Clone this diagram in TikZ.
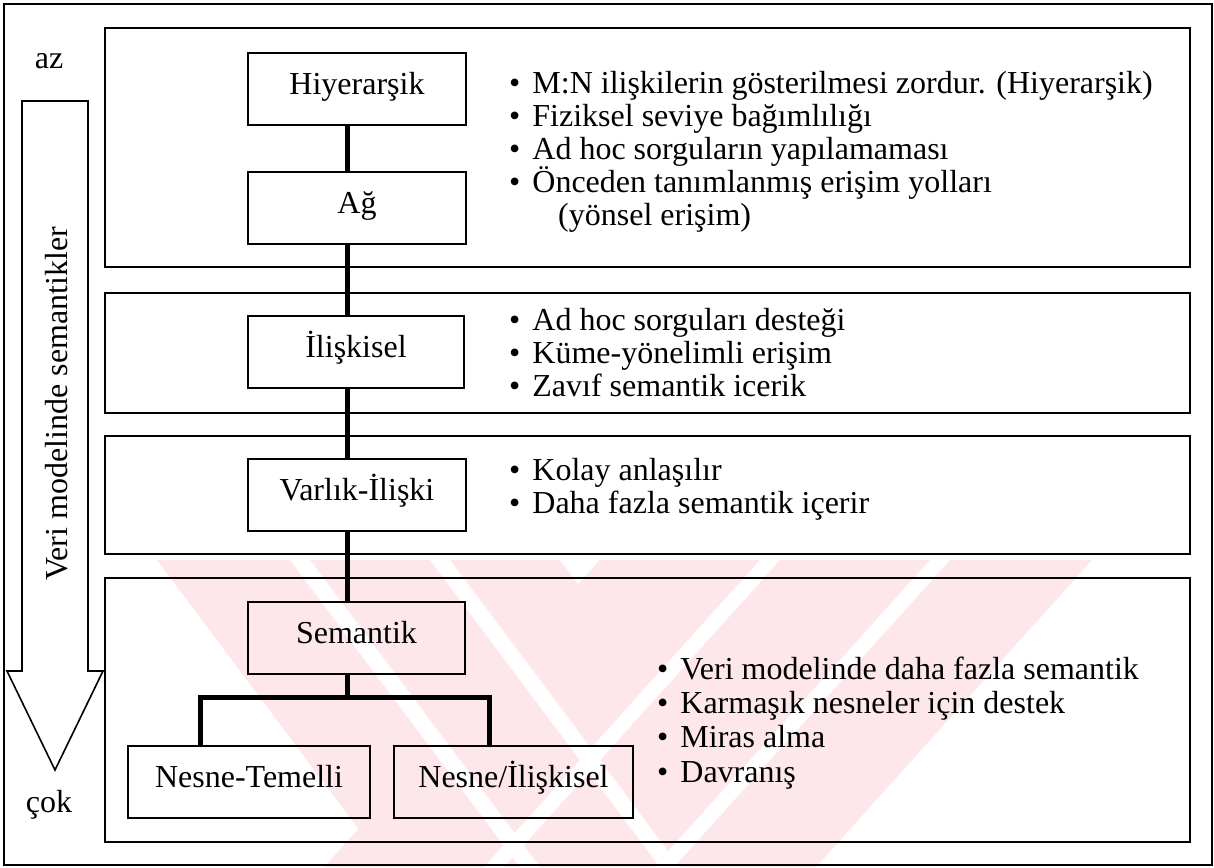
\documentclass[tikz,border=0pt]{standalone}
\usepackage{fontspec}
\setmainfont{Liberation Serif}
\definecolor{wmpink}{RGB}{253,231,235}
\newcommand\itemdot{\char"2022\hspace{12pt}}
\begin{document}
\begin{tikzpicture}[x=1pt,y=-1pt,
  txt/.style={font=\fontsize{32}{38}\selectfont, inner sep=0pt},
  frame/.style={draw, line width=1.6pt},
  panel/.style={draw, line width=1.8pt},
  mbox/.style={draw, line width=1.8pt, txt, minimum height=72pt,
               text height=17pt, text depth=7pt},
  link/.style={line width=5pt},
  item/.style={txt, anchor=base west},
]
\useasboundingbox (0,0) rectangle (1214,867);

% faint striped watermark in the lower half
\begin{scope}
  \clip (0,560) rectangle (1214,867);
  % two crossing bands
  \fill[wmpink] (157,560) -- (560,560) -- ++(230,307) -- ++(-403,0) -- cycle;
  \fill[wmpink] (600,560) -- (1092,560) -- ++(-276,307) -- ++(-492,0) -- cycle;
  % thin white stripes inside the bands
  \foreach \s in {290,430}
    \fill[white] (\s,560) -- (\s+20,560) -- ++(230,307) -- ++(-20,0) -- cycle;
  \foreach \s in {760,930}
    \fill[white] (\s,560) -- (\s+20,560) -- ++(-276,307) -- ++(-20,0) -- cycle;
\end{scope}

% outer frame
\draw[frame] (4,4) rectangle (1212,865);

% downward arrow on the left
\draw[frame] (22,101) -- (88,101) -- (88,671) -- (103,671) -- (55,770)
  -- (7,671) -- (22,671) -- cycle;
\node[txt, anchor=base] (az) at (49,68) {az};
\node[txt, anchor=base] (cok) at (49,812) {çok};
\node[txt, rotate=90, anchor=base] (axis) at (67,404) {Veri modelinde semantikler};

% group panels
\draw[panel] (105,28) rectangle (1190,267);
\draw[panel] (105,293) rectangle (1190,413);
\draw[panel] (105,436) rectangle (1190,554);
\draw[panel] (105,578) rectangle (1190,842);

% model boxes
\node[mbox, minimum width=218pt] (hier) at (357,89) {Hiyerarşik};
\node[mbox, minimum width=218pt] (ag) at (357,208) {Ağ};
\node[mbox, minimum width=216pt] (ilis) at (356,352) {İlişkisel};
\node[mbox, minimum width=218pt] (varlik) at (357,495) {Varlık-İlişki};
\node[mbox, minimum width=217pt] (sem) at (356.5,638) {Semantik};
\node[mbox, minimum width=242pt] (nt) at (249,782) {Nesne-Temelli};
\node[mbox, minimum width=239pt] (ni) at (513.5,782) {Nesne/İlişkisel};

% connectors
\coordinate (cx) at (347,0);
\coordinate (jl) at (200,697);
\coordinate (jr) at (489,697);
\draw[link] (hier.south -| cx) -- (ag.north -| cx);
\draw[link] (ag.south -| cx) -- (ilis.north -| cx);
\draw[link] (ilis.south -| cx) -- (varlik.north -| cx);
\draw[link] (varlik.south -| cx) -- (sem.north -| cx);
\draw[link] (sem.south -| cx) -- (cx |- jl);
\draw[link, line join=miter] (jl |- nt.north) -- (jl) -- (jr) -- (jr |- ni.north);

% feature lists
\node[item] (h1) at (509,93)  {\itemdot M:N ilişkilerin gösterilmesi zordur. (Hiyerarşik)};
\node[item] (h2) at (509,126) {\itemdot Fiziksel seviye bağımlılığı};
\node[item] (h3) at (509,159) {\itemdot Ad hoc sorguların yapılamaması};
\node[item] (h4) at (509,192) {\itemdot Önceden tanımlanmış erişim yolları};
\node[item] (h5) at (558,225) {(yönsel erişim)};

\node[item] (r1) at (509,330) {\itemdot Ad hoc sorguları desteği};
\node[item] (r2) at (509,363) {\itemdot Küme-yönelimli erişim};
\node[item] (r3) at (509,396) {\itemdot Zavıf semantik icerik};

\node[item] (e1) at (509,480) {\itemdot Kolay anlaşılır};
\node[item] (e2) at (509,513) {\itemdot Daha fazla semantik içerir};

\node[item] (s1) at (657,679) {\itemdot Veri modelinde daha fazla semantik};
\node[item] (s2) at (657,713) {\itemdot Karmaşık nesneler için destek};
\node[item] (s3) at (657,747) {\itemdot Miras alma};
\node[item] (s4) at (657,782) {\itemdot Davranış};
\end{tikzpicture}
\end{document}
